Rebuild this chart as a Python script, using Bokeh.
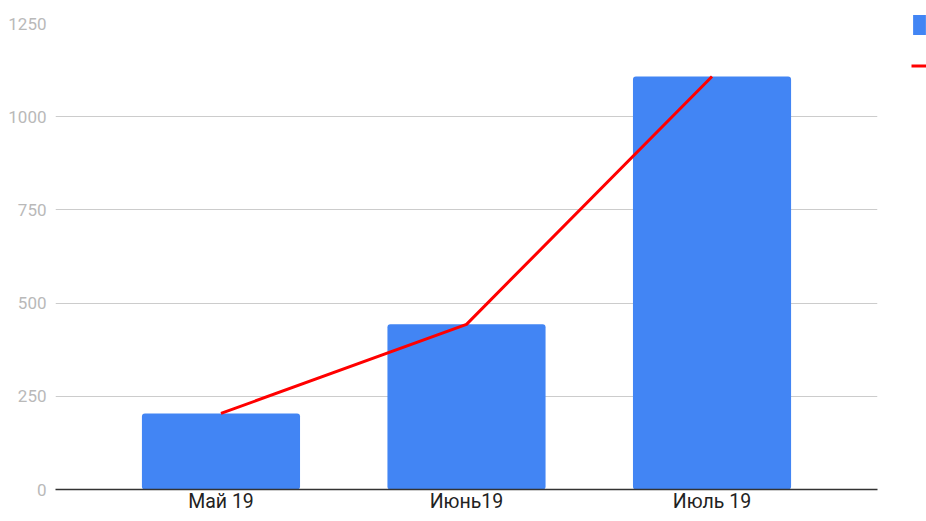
from bokeh.plotting import figure
from bokeh.models import Legend, LegendItem, FixedTicker, Range1d, FactorRange
from bokeh.embed import file_html
from bokeh.resources import INLINE

months = ["Май 19", "Июнь19", "Июль 19"]
bar_values = [204, 443, 1108]
line_values = [204, 443, 1108]
y_ticks = [0, 250, 500, 750, 1000, 1250]

p = figure(x_range=FactorRange(factors=months, range_padding=0.116),
           y_range=Range1d(0, 1250), width=918, height=513,
           output_backend="svg", toolbar_location=None,
           min_border_left=55, min_border_top=23, min_border_bottom=24, min_border_right=41)
p.frame_width = 822
p.frame_height = 466
p.outline_line_color = None
p.background_fill_color = "white"

bars = p.vbar(x=months, top=bar_values, width=0.644, color="#4285f4", line_color=None,
              border_radius=3)
ln = p.line(x=months, y=line_values, line_color="#ff0000", line_width=3)

p.yaxis.ticker = FixedTicker(ticks=y_ticks)
p.yaxis.axis_line_color = None
p.yaxis.major_tick_line_color = None
p.yaxis.minor_tick_line_color = None
p.yaxis.major_tick_out = 0
p.yaxis.major_tick_in = 0
p.yaxis.minor_tick_out = 0
p.yaxis.major_label_text_color = "#b9b9b9"
p.yaxis.major_label_text_font = "Roboto"
p.yaxis.major_label_text_font_size = "17px"
p.yaxis.major_label_standoff = 9

p.xaxis.axis_line_color = "#333333"
p.xaxis.axis_line_width = 1.5
p.xaxis.major_tick_line_color = None
p.xaxis.minor_tick_line_color = None
p.xaxis.major_tick_out = 0
p.xaxis.major_tick_in = 0
p.xaxis.minor_tick_out = 0
p.xaxis.major_label_text_font = "Roboto"
p.xaxis.major_label_text_font_size = "19.5px"
p.xaxis.major_label_text_color = "#222222"
p.xaxis.major_label_standoff = 0

p.xgrid.grid_line_color = None
p.ygrid.grid_line_color = "#cccccc"
p.ygrid.grid_line_width = 1

legend = Legend(items=[LegendItem(label=" ", renderers=[bars]),
                       LegendItem(label=" ", renderers=[ln])],
                location=(34, 411), orientation="vertical",
                glyph_width=16, glyph_height=25, spacing=16,
                padding=0, margin=0, label_standoff=0, label_width=0,
                label_text_font_size="1px", border_line_color=None,
                background_fill_alpha=0)
p.add_layout(legend, "right")

open("out.html", "w").write(file_html(p, INLINE))
